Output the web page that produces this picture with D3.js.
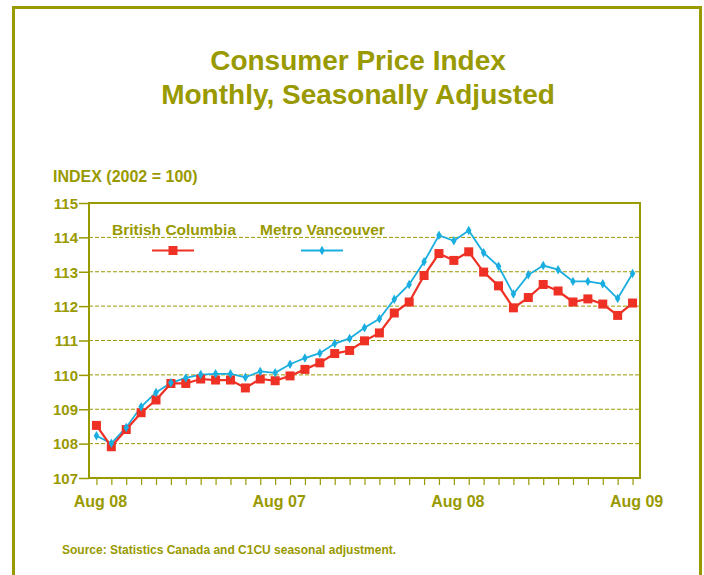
<!DOCTYPE html>
<html>
<head>
<meta charset="utf-8">
<script src="https://cdn.jsdelivr.net/npm/d3@7"></script>
<style>
  body { margin: 0; background: #fff; }
  svg { display: block; font-family: "Liberation Sans", Arial, sans-serif; font-weight: bold; }
</style>
</head>
<body>
<svg id="chart" width="704" height="575"></svg>
<script>
// 월별 데이터 (37개월)
const months = d3.range(37);
const xLabels = ["Aug 08", "Aug 07", "Aug 08", "Aug 09"]; // 0, 12, 24, 36
const yTicks = [107, 108, 109, 110, 111, 112, 113, 114, 115];

const bcValues = [108.53, 107.91, 108.41, 108.90, 109.27, 109.75, 109.75, 109.88, 109.85, 109.85,
    109.62, 109.88, 109.83, 109.97, 110.16, 110.35, 110.62, 110.71, 110.99, 111.22,
    111.80, 112.12, 112.89, 113.53, 113.33, 113.58, 112.99, 112.59, 111.95, 112.25,
    112.63, 112.44, 112.12, 112.21, 112.06, 111.73, 112.09];
const vanValues = [108.23, 108.01, 108.47, 109.07, 109.49, 109.77, 109.91, 110.01, 110.03, 110.03,
    109.93, 110.10, 110.06, 110.31, 110.49, 110.63, 110.91, 111.06, 111.37, 111.63,
    112.20, 112.63, 113.29, 114.06, 113.90, 114.20, 113.55, 113.16, 112.35, 112.91,
    113.18, 113.06, 112.72, 112.72, 112.65, 112.22, 112.95];

const olive = "#999900";
const red = "#ee3124";
const blue = "#1aaee0";

const svg = d3.select("#chart");

// 바깥 테두리
svg.append("rect")
    .attr("x", 13.5).attr("y", 7.5)
    .attr("width", 687).attr("height", 600)
    .attr("fill", "none")
    .attr("stroke", olive)
    .attr("stroke-width", 3);

// 제목
svg.append("text")
    .attr("x", 358).attr("y", 69.5)
    .attr("text-anchor", "middle")
    .attr("fill", olive)
    .attr("font-size", 28)
    .text("Consumer Price Index");
svg.append("text")
    .attr("x", 358).attr("y", 104)
    .attr("text-anchor", "middle")
    .attr("fill", olive)
    .attr("font-size", 28)
    .text("Monthly, Seasonally Adjusted");

svg.append("text")
    .attr("x", 53).attr("y", 182)
    .attr("fill", olive)
    .attr("font-size", 16)
    .text("INDEX (2002 = 100)");

// 플롯 영역
const plotLeft = 89, plotRight = 640, plotTop = 203, plotBottom = 478;

const x = d3.scalePoint()
    .domain(months)
    .range([plotLeft, plotRight])
    .padding(0.5);

const y = d3.scaleLinear()
    .domain([107, 115])
    .range([plotBottom, plotTop]);

// 격자선
svg.append("g")
    .selectAll("line")
    .data(yTicks.slice(1, -1))
    .enter()
    .append("line")
    .attr("x1", plotLeft).attr("x2", plotRight)
    .attr("y1", d => y(d)).attr("y2", d => y(d))
    .attr("stroke", olive)
    .attr("stroke-width", 1)
    .attr("stroke-dasharray", "4,2");

// 플롯 테두리
svg.append("rect")
    .attr("x", plotLeft).attr("y", plotTop)
    .attr("width", plotRight - plotLeft).attr("height", plotBottom - plotTop)
    .attr("fill", "none")
    .attr("stroke", olive)
    .attr("stroke-width", 2);

// y축
const yAxis = svg.append("g")
    .attr("transform", `translate(${plotLeft},0)`)
    .call(d3.axisLeft(y).tickValues(yTicks).tickSize(10).tickPadding(1).tickFormat(d3.format("d")));
yAxis.select(".domain").remove();
yAxis.selectAll("line").attr("stroke", olive).attr("stroke-width", 1.5);
yAxis.selectAll("text")
    .attr("fill", olive)
    .attr("font-size", 15)
    .attr("font-family", "Liberation Sans, Arial, sans-serif")
    .attr("font-weight", "bold")
    .attr("dy", "0.35em");

// x축
const xAxis = svg.append("g")
    .attr("transform", `translate(0,${plotBottom})`)
    .call(d3.axisBottom(x).tickSize(7).tickFormat(""));
xAxis.select(".domain").remove();
xAxis.selectAll("line").attr("stroke", olive).attr("stroke-width", 1.2);

svg.append("g")
    .selectAll("text")
    .data(xLabels)
    .enter()
    .append("text")
    .attr("x", (d, i) => x(i * 12) + 4)
    .attr("y", 507)
    .attr("text-anchor", "middle")
    .attr("fill", olive)
    .attr("font-size", 16)
    .text(d => d);

// 라인
const line = (vals) => d3.line()
    .x((d, i) => x(i))
    .y(d => y(d))(vals);

svg.append("path")
    .attr("d", line(vanValues))
    .attr("fill", "none")
    .attr("stroke", blue)
    .attr("stroke-width", 1.8);

svg.append("path")
    .attr("d", line(bcValues))
    .attr("fill", "none")
    .attr("stroke", red)
    .attr("stroke-width", 2.2);

svg.append("g")
    .selectAll("rect")
    .data(bcValues)
    .enter()
    .append("rect")
    .attr("x", (d, i) => x(i) - 4.5)
    .attr("y", d => y(d) - 4.5)
    .attr("width", 9).attr("height", 9)
    .attr("fill", red);

svg.append("g")
    .selectAll("path")
    .data(vanValues)
    .enter()
    .append("path")
    .attr("d", d3.symbol().type(d3.symbolDiamond).size(26))
    .attr("transform", (d, i) => `translate(${x(i)},${y(d)})`)
    .attr("fill", blue);

// 범례
const legend = [
    { name: "British Columbia", color: red, tx: 112, lx: 152, shape: "square" },
    { name: "Metro Vancouver", color: blue, tx: 260, lx: 301, shape: "diamond" }
];
legend.forEach(l => {
    svg.append("text")
        .attr("x", l.tx).attr("y", 234.5)
        .attr("fill", olive)
        .attr("font-size", 15.5)
        .text(l.name);
    svg.append("line")
        .attr("x1", l.lx).attr("x2", l.lx + 42)
        .attr("y1", 250.5).attr("y2", 250.5)
        .attr("stroke", l.color)
        .attr("stroke-width", 2);
    if (l.shape === "square") {
        svg.append("rect")
            .attr("x", l.lx + 21 - 4.5).attr("y", 246)
            .attr("width", 9).attr("height", 9)
            .attr("fill", l.color);
    } else {
        svg.append("path")
            .attr("d", d3.symbol().type(d3.symbolDiamond).size(26))
            .attr("transform", `translate(${l.lx + 21},250.5)`)
            .attr("fill", l.color);
    }
});

// 출처
svg.append("text")
    .attr("x", 62).attr("y", 554)
    .attr("fill", olive)
    .attr("font-size", 12)
    .text("Source: Statistics Canada and C1CU seasonal adjustment.");
</script>
</body>
</html>
